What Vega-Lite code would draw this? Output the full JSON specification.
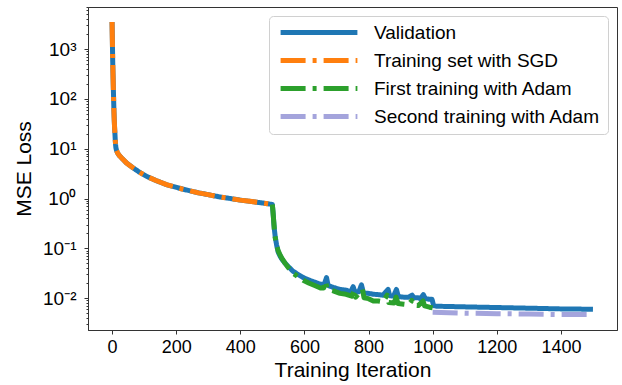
{
  "$schema": "https://vega.github.io/schema/vega-lite/v6.json",
  "width": 529,
  "height": 323,
  "autosize": "none",
  "padding": {"left": 88, "top": 7, "right": 5, "bottom": 55},
  "background": "white",
  "config": {
    "font": "Liberation Sans",
    "view": {"stroke": "#333333", "strokeWidth": 1}
  },
  "data": {"values": [
    {"series": "Validation", "iter": 0, "loss": 3500},
    {"series": "Validation", "iter": 1, "loss": 1500},
    {"series": "Validation", "iter": 2, "loss": 600},
    {"series": "Validation", "iter": 3, "loss": 320},
    {"series": "Validation", "iter": 4, "loss": 170},
    {"series": "Validation", "iter": 5, "loss": 95},
    {"series": "Validation", "iter": 6, "loss": 55},
    {"series": "Validation", "iter": 7, "loss": 36},
    {"series": "Validation", "iter": 8, "loss": 26},
    {"series": "Validation", "iter": 9, "loss": 20},
    {"series": "Validation", "iter": 10, "loss": 15},
    {"series": "Validation", "iter": 11, "loss": 12.2},
    {"series": "Validation", "iter": 12, "loss": 10.5},
    {"series": "Validation", "iter": 14, "loss": 9.2},
    {"series": "Validation", "iter": 17, "loss": 8.3},
    {"series": "Validation", "iter": 22, "loss": 7.4},
    {"series": "Validation", "iter": 33, "loss": 6.2},
    {"series": "Validation", "iter": 45, "loss": 5.2},
    {"series": "Validation", "iter": 64, "loss": 4.2},
    {"series": "Validation", "iter": 85, "loss": 3.4},
    {"series": "Validation", "iter": 110, "loss": 2.75},
    {"series": "Validation", "iter": 137, "loss": 2.3},
    {"series": "Validation", "iter": 170, "loss": 1.9},
    {"series": "Validation", "iter": 220, "loss": 1.55},
    {"series": "Validation", "iter": 270, "loss": 1.3},
    {"series": "Validation", "iter": 300, "loss": 1.2},
    {"series": "Validation", "iter": 335, "loss": 1.08},
    {"series": "Validation", "iter": 370, "loss": 1.0},
    {"series": "Validation", "iter": 400, "loss": 0.93},
    {"series": "Validation", "iter": 430, "loss": 0.88},
    {"series": "Validation", "iter": 460, "loss": 0.83},
    {"series": "Validation", "iter": 490, "loss": 0.78},
    {"series": "Validation", "iter": 500, "loss": 0.76},
    {"series": "Validation", "iter": 503, "loss": 0.45},
    {"series": "Validation", "iter": 506, "loss": 0.25},
    {"series": "Validation", "iter": 509, "loss": 0.17},
    {"series": "Validation", "iter": 513, "loss": 0.12},
    {"series": "Validation", "iter": 518, "loss": 0.085},
    {"series": "Validation", "iter": 525, "loss": 0.068},
    {"series": "Validation", "iter": 532, "loss": 0.058},
    {"series": "Validation", "iter": 540, "loss": 0.05},
    {"series": "Validation", "iter": 550, "loss": 0.043},
    {"series": "Validation", "iter": 564, "loss": 0.035},
    {"series": "Validation", "iter": 580, "loss": 0.03},
    {"series": "Validation", "iter": 596, "loss": 0.026},
    {"series": "Validation", "iter": 615, "loss": 0.023},
    {"series": "Validation", "iter": 632, "loss": 0.021},
    {"series": "Validation", "iter": 650, "loss": 0.019},
    {"series": "Validation", "iter": 662, "loss": 0.019},
    {"series": "Validation", "iter": 669, "loss": 0.026},
    {"series": "Validation", "iter": 674, "loss": 0.018},
    {"series": "Validation", "iter": 690, "loss": 0.0165},
    {"series": "Validation", "iter": 711, "loss": 0.015},
    {"series": "Validation", "iter": 730, "loss": 0.0145},
    {"series": "Validation", "iter": 745, "loss": 0.0135},
    {"series": "Validation", "iter": 752, "loss": 0.017},
    {"series": "Validation", "iter": 758, "loss": 0.013},
    {"series": "Validation", "iter": 770, "loss": 0.0135},
    {"series": "Validation", "iter": 778, "loss": 0.0186},
    {"series": "Validation", "iter": 784, "loss": 0.0128},
    {"series": "Validation", "iter": 800, "loss": 0.0125},
    {"series": "Validation", "iter": 815, "loss": 0.012},
    {"series": "Validation", "iter": 830, "loss": 0.0118},
    {"series": "Validation", "iter": 845, "loss": 0.0115},
    {"series": "Validation", "iter": 861, "loss": 0.015},
    {"series": "Validation", "iter": 866, "loss": 0.0112},
    {"series": "Validation", "iter": 878, "loss": 0.011},
    {"series": "Validation", "iter": 887, "loss": 0.015},
    {"series": "Validation", "iter": 893, "loss": 0.0108},
    {"series": "Validation", "iter": 910, "loss": 0.0105},
    {"series": "Validation", "iter": 925, "loss": 0.0105},
    {"series": "Validation", "iter": 936, "loss": 0.0115},
    {"series": "Validation", "iter": 942, "loss": 0.0102},
    {"series": "Validation", "iter": 955, "loss": 0.0102},
    {"series": "Validation", "iter": 962, "loss": 0.0098},
    {"series": "Validation", "iter": 971, "loss": 0.0118},
    {"series": "Validation", "iter": 977, "loss": 0.0098},
    {"series": "Validation", "iter": 990, "loss": 0.0095},
    {"series": "Validation", "iter": 998, "loss": 0.0095},
    {"series": "Validation", "iter": 1003, "loss": 0.0071},
    {"series": "Validation", "iter": 1012, "loss": 0.0069},
    {"series": "Validation", "iter": 1100, "loss": 0.0067},
    {"series": "Validation", "iter": 1200, "loss": 0.0065},
    {"series": "Validation", "iter": 1300, "loss": 0.0063},
    {"series": "Validation", "iter": 1400, "loss": 0.0061},
    {"series": "Validation", "iter": 1500, "loss": 0.006},

    {"series": "Training set with SGD", "iter": 0, "loss": 3500},
    {"series": "Training set with SGD", "iter": 1, "loss": 1500},
    {"series": "Training set with SGD", "iter": 2, "loss": 600},
    {"series": "Training set with SGD", "iter": 3, "loss": 320},
    {"series": "Training set with SGD", "iter": 4, "loss": 170},
    {"series": "Training set with SGD", "iter": 5, "loss": 95},
    {"series": "Training set with SGD", "iter": 6, "loss": 55},
    {"series": "Training set with SGD", "iter": 7, "loss": 36},
    {"series": "Training set with SGD", "iter": 8, "loss": 26},
    {"series": "Training set with SGD", "iter": 9, "loss": 20},
    {"series": "Training set with SGD", "iter": 10, "loss": 15},
    {"series": "Training set with SGD", "iter": 11, "loss": 12.2},
    {"series": "Training set with SGD", "iter": 12, "loss": 10.5},
    {"series": "Training set with SGD", "iter": 14, "loss": 9.2},
    {"series": "Training set with SGD", "iter": 17, "loss": 8.3},
    {"series": "Training set with SGD", "iter": 22, "loss": 7.4},
    {"series": "Training set with SGD", "iter": 33, "loss": 6.2},
    {"series": "Training set with SGD", "iter": 45, "loss": 5.2},
    {"series": "Training set with SGD", "iter": 64, "loss": 4.2},
    {"series": "Training set with SGD", "iter": 85, "loss": 3.4},
    {"series": "Training set with SGD", "iter": 110, "loss": 2.75},
    {"series": "Training set with SGD", "iter": 137, "loss": 2.3},
    {"series": "Training set with SGD", "iter": 170, "loss": 1.9},
    {"series": "Training set with SGD", "iter": 220, "loss": 1.55},
    {"series": "Training set with SGD", "iter": 270, "loss": 1.3},
    {"series": "Training set with SGD", "iter": 300, "loss": 1.2},
    {"series": "Training set with SGD", "iter": 335, "loss": 1.08},
    {"series": "Training set with SGD", "iter": 370, "loss": 1.0},
    {"series": "Training set with SGD", "iter": 400, "loss": 0.93},
    {"series": "Training set with SGD", "iter": 430, "loss": 0.88},
    {"series": "Training set with SGD", "iter": 460, "loss": 0.83},
    {"series": "Training set with SGD", "iter": 490, "loss": 0.78},
    {"series": "Training set with SGD", "iter": 500, "loss": 0.76},

    {"series": "First training with Adam", "iter": 500, "loss": 0.76},
    {"series": "First training with Adam", "iter": 502, "loss": 0.55},
    {"series": "First training with Adam", "iter": 505, "loss": 0.3},
    {"series": "First training with Adam", "iter": 508, "loss": 0.18},
    {"series": "First training with Adam", "iter": 512, "loss": 0.125},
    {"series": "First training with Adam", "iter": 518, "loss": 0.09},
    {"series": "First training with Adam", "iter": 525, "loss": 0.072},
    {"series": "First training with Adam", "iter": 532, "loss": 0.06},
    {"series": "First training with Adam", "iter": 540, "loss": 0.05},
    {"series": "First training with Adam", "iter": 550, "loss": 0.041},
    {"series": "First training with Adam", "iter": 564, "loss": 0.032},
    {"series": "First training with Adam", "iter": 580, "loss": 0.027},
    {"series": "First training with Adam", "iter": 596, "loss": 0.023},
    {"series": "First training with Adam", "iter": 615, "loss": 0.02},
    {"series": "First training with Adam", "iter": 632, "loss": 0.018},
    {"series": "First training with Adam", "iter": 650, "loss": 0.016},
    {"series": "First training with Adam", "iter": 660, "loss": 0.016},
    {"series": "First training with Adam", "iter": 666, "loss": 0.022},
    {"series": "First training with Adam", "iter": 671, "loss": 0.015},
    {"series": "First training with Adam", "iter": 690, "loss": 0.014},
    {"series": "First training with Adam", "iter": 711, "loss": 0.0125},
    {"series": "First training with Adam", "iter": 730, "loss": 0.012},
    {"series": "First training with Adam", "iter": 748, "loss": 0.011},
    {"series": "First training with Adam", "iter": 755, "loss": 0.014},
    {"series": "First training with Adam", "iter": 760, "loss": 0.0105},
    {"series": "First training with Adam", "iter": 781, "loss": 0.015},
    {"series": "First training with Adam", "iter": 786, "loss": 0.0102},
    {"series": "First training with Adam", "iter": 800, "loss": 0.0098},
    {"series": "First training with Adam", "iter": 815, "loss": 0.0088},
    {"series": "First training with Adam", "iter": 830, "loss": 0.0088},
    {"series": "First training with Adam", "iter": 845, "loss": 0.0085},
    {"series": "First training with Adam", "iter": 858, "loss": 0.0115},
    {"series": "First training with Adam", "iter": 863, "loss": 0.0082},
    {"series": "First training with Adam", "iter": 880, "loss": 0.008},
    {"series": "First training with Adam", "iter": 886, "loss": 0.0105},
    {"series": "First training with Adam", "iter": 892, "loss": 0.0078},
    {"series": "First training with Adam", "iter": 910, "loss": 0.0076},
    {"series": "First training with Adam", "iter": 925, "loss": 0.0074},
    {"series": "First training with Adam", "iter": 935, "loss": 0.009},
    {"series": "First training with Adam", "iter": 940, "loss": 0.0072},
    {"series": "First training with Adam", "iter": 955, "loss": 0.0071},
    {"series": "First training with Adam", "iter": 970, "loss": 0.0088},
    {"series": "First training with Adam", "iter": 975, "loss": 0.007},
    {"series": "First training with Adam", "iter": 990, "loss": 0.0066},
    {"series": "First training with Adam", "iter": 1000, "loss": 0.0064},

    {"series": "Second training with Adam", "iter": 1000, "loss": 0.0052},
    {"series": "Second training with Adam", "iter": 1100, "loss": 0.005},
    {"series": "Second training with Adam", "iter": 1200, "loss": 0.0049},
    {"series": "Second training with Adam", "iter": 1300, "loss": 0.0048},
    {"series": "Second training with Adam", "iter": 1400, "loss": 0.0047},
    {"series": "Second training with Adam", "iter": 1500, "loss": 0.0047}
  ]},
  "mark": {"type": "line", "strokeWidth": 5, "strokeCap": "butt", "strokeJoin": "round", "clip": true},
  "encoding": {
    "x": {
      "field": "iter", "type": "quantitative",
      "scale": {"domain": [-75, 1575], "nice": false, "zero": false},
      "axis": {
        "title": "Training Iteration",
        "values": [0, 200, 400, 600, 800, 1000, 1200, 1400],
        "format": "d",
        "grid": false,
        "tickSize": 4,
        "tickColor": "#333333",
        "domainColor": "#333333",
        "labelFontSize": 18,
        "labelColor": "black",
        "labelPadding": 4,
        "titleFontSize": 21,
        "titleFontWeight": "normal",
        "titleColor": "black",
        "titlePadding": 3
      }
    },
    "y": {
      "field": "loss", "type": "quantitative",
      "scale": {"type": "log", "domain": [0.0023, 7000], "nice": false},
      "axis": {
        "title": "MSE Loss",
        "values": [0.003, 0.004, 0.005, 0.006, 0.007, 0.008, 0.009, 0.01, 0.02, 0.03, 0.04, 0.05, 0.06, 0.07, 0.08, 0.09, 0.1, 0.2, 0.3, 0.4, 0.5, 0.6, 0.7, 0.8, 0.9, 1, 2, 3, 4, 5, 6, 7, 8, 9, 10, 20, 30, 40, 50, 60, 70, 80, 90, 100, 200, 300, 400, 500, 600, 700, 800, 900, 1000, 2000, 3000, 4000, 5000, 6000, 7000],
        "labelExpr": "abs(log(datum.value)/LN10 - round(log(datum.value)/LN10)) > 0.001 ? '' : (round(log(datum.value)/LN10) == -2 ? '10⁻²' : round(log(datum.value)/LN10) == -1 ? '10⁻¹' : round(log(datum.value)/LN10) == 0 ? '10⁰' : round(log(datum.value)/LN10) == 1 ? '10¹' : round(log(datum.value)/LN10) == 2 ? '10²' : '10³')",
        "tickSize": {"condition": {"test": "abs(log(datum.value)/LN10 - round(log(datum.value)/LN10)) < 0.001", "value": 4}, "value": 2},
        "grid": false,
        "labelOverlap": false,
        "tickColor": "#333333",
        "domainColor": "#333333",
        "labelFontSize": 19,
        "labelColor": "black",
        "labelPadding": 8,
        "titleFontSize": 21,
        "titleFontWeight": "normal",
        "titleColor": "black",
        "titleX": -54
      }
    },
    "color": {
      "field": "series", "type": "nominal",
      "scale": {
        "domain": ["Validation", "Training set with SGD", "First training with Adam", "Second training with Adam"],
        "range": ["#1f77b4", "#ff7f0e", "#2ca02c", "#a4a4dc"]
      },
      "legend": {
        "title": null,
        "orient": "top-right",
        "offset": 9,
        "symbolType": "stroke",
        "symbolSize": 5900,
        "symbolStrokeWidth": 5,
        "symbolOffset": 2,
        "clipHeight": 19,
        "rowPadding": 8,
        "labelFontSize": 19,
        "labelColor": "black",
        "labelOffset": 14,
        "fillColor": "white",
        "strokeColor": "#d0d0d0",
        "cornerRadius": 4,
        "padding": 7,
        "labelLimit": 400
      }
    },
    "strokeDash": {
      "field": "series", "type": "nominal",
      "scale": {
        "domain": ["Validation", "Training set with SGD", "First training with Adam", "Second training with Adam"],
        "range": [[1, 0], [25, 7, 4, 7], [25, 7, 4, 7], [25, 7, 4, 7]]
      },
      "legend": {
        "title": null,
        "orient": "top-right",
        "offset": 9,
        "symbolType": "stroke",
        "symbolSize": 5900,
        "symbolStrokeWidth": 5,
        "symbolOffset": 2,
        "clipHeight": 19,
        "rowPadding": 8,
        "labelFontSize": 19,
        "labelColor": "black",
        "labelOffset": 14,
        "fillColor": "white",
        "strokeColor": "#d0d0d0",
        "cornerRadius": 4,
        "padding": 7,
        "labelLimit": 400
      }
    }
  }
}
